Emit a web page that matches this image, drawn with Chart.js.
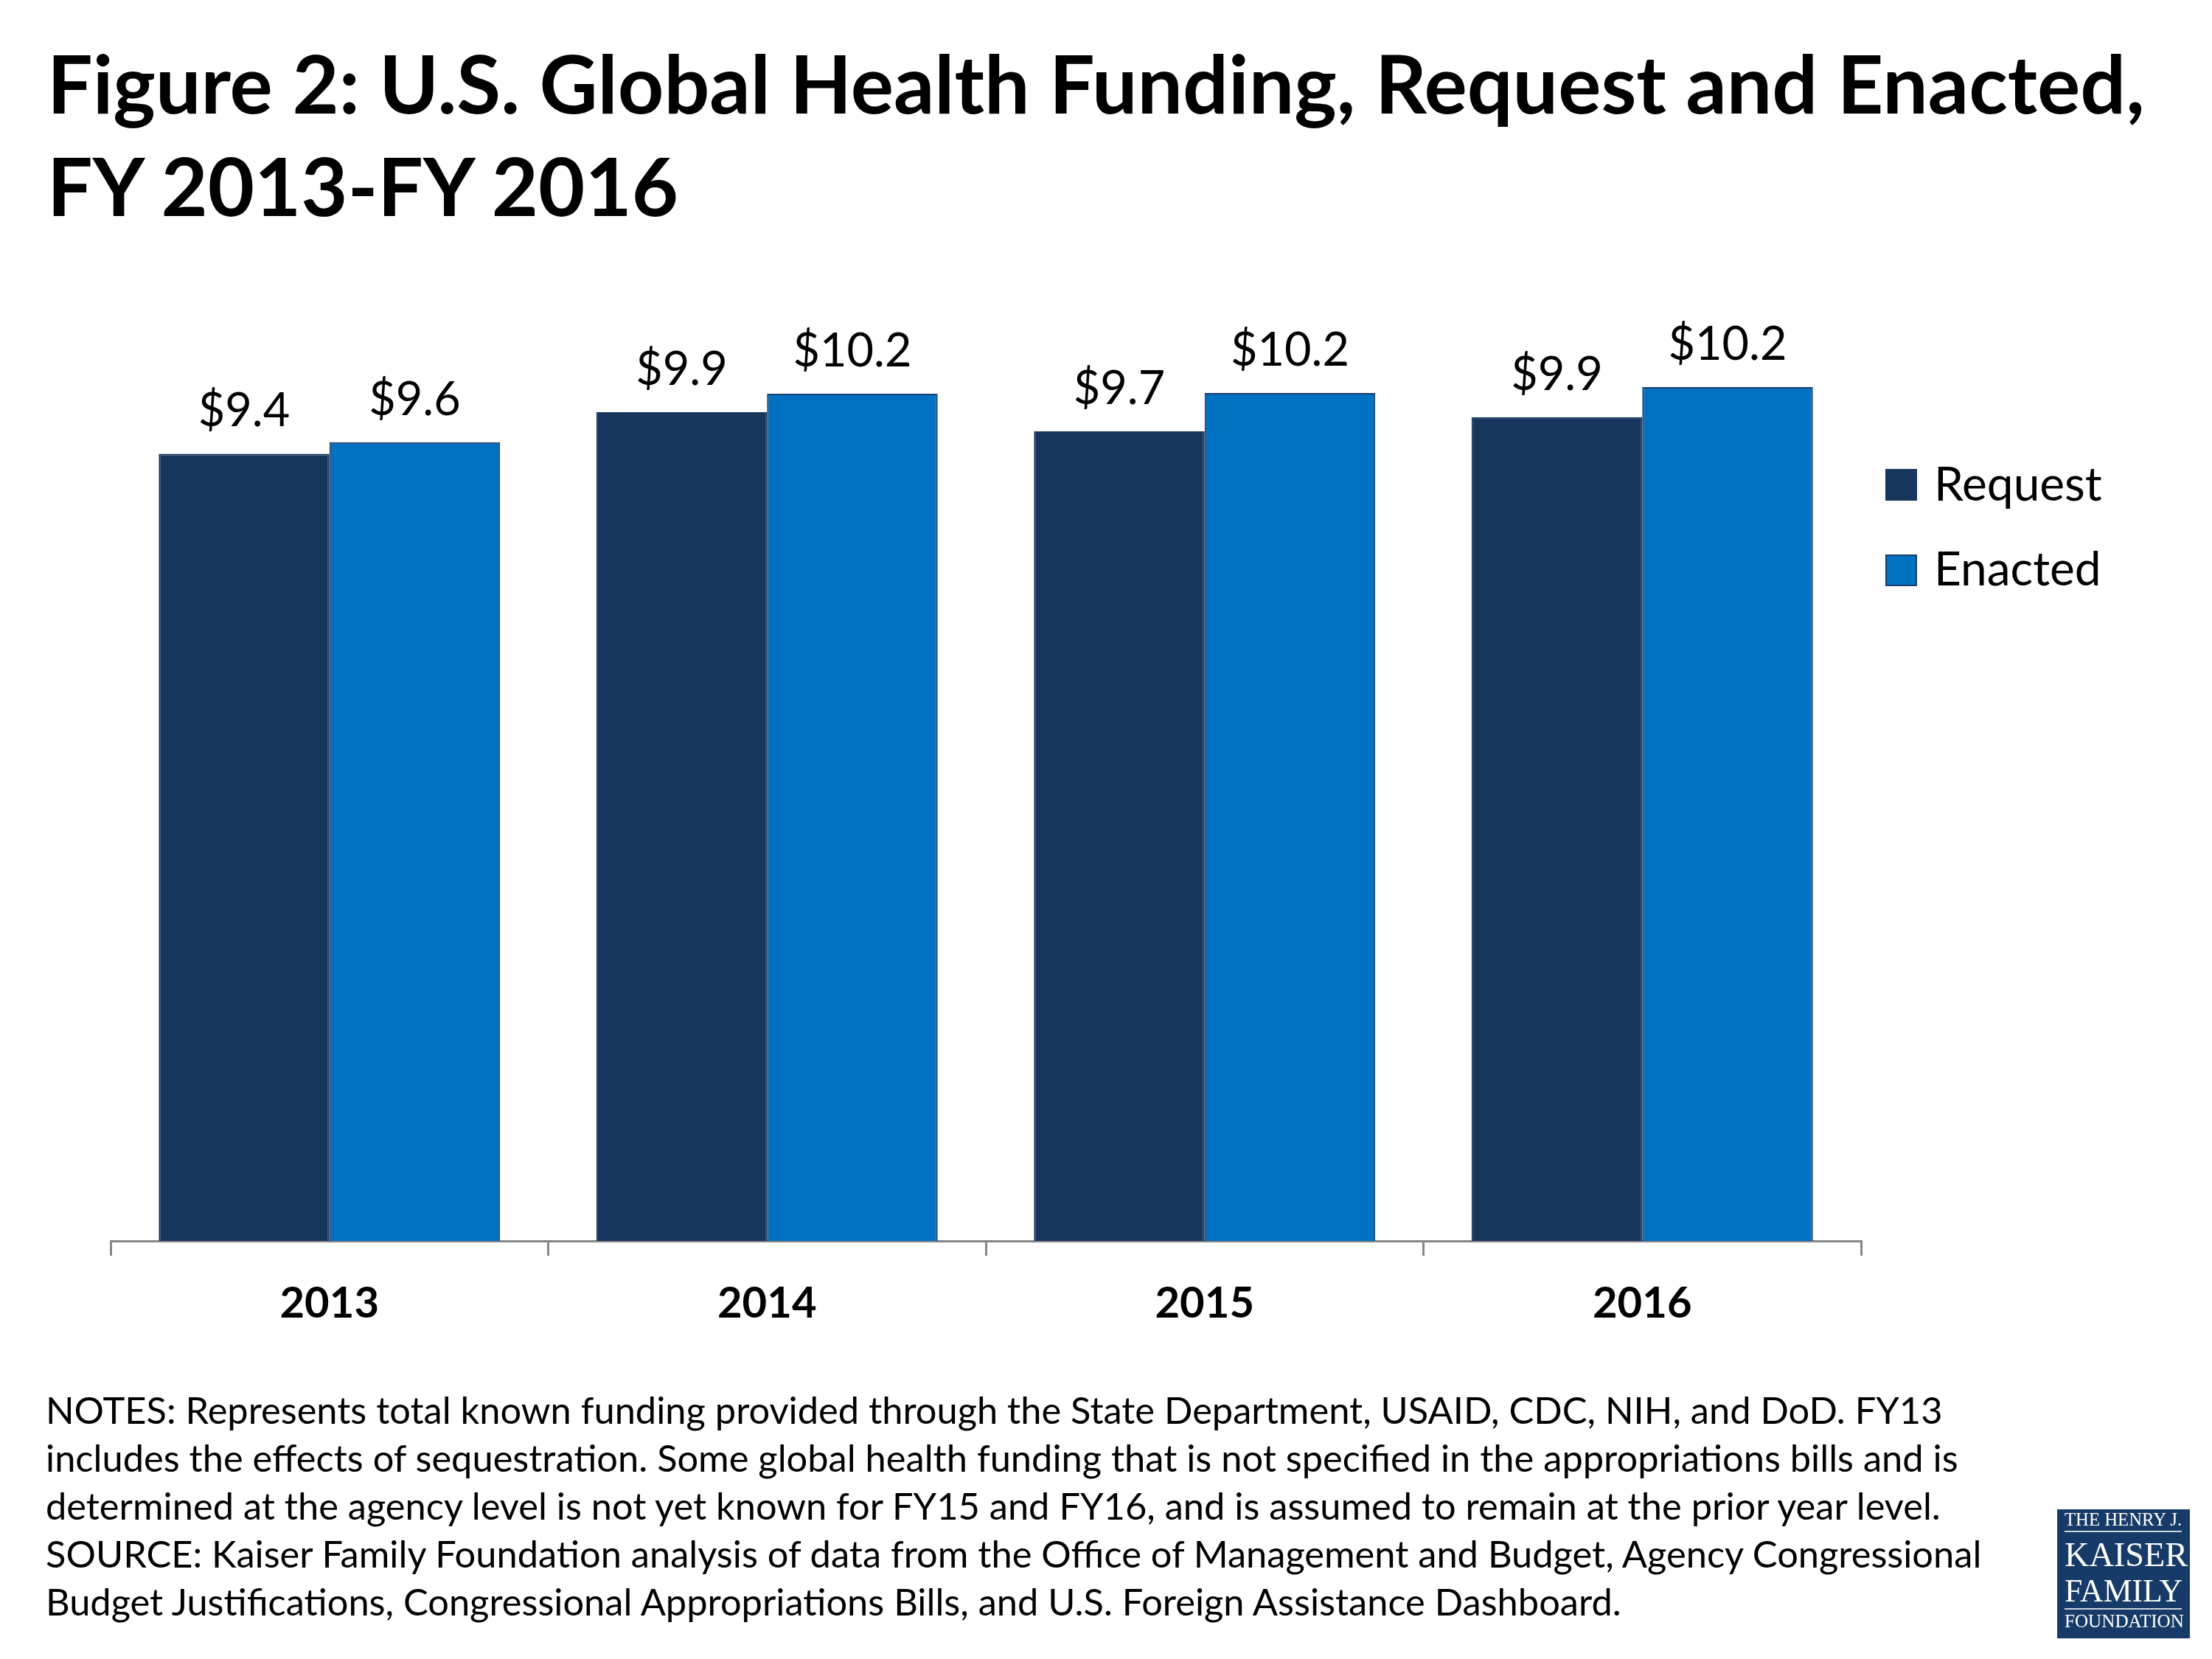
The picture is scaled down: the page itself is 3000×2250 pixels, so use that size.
<!DOCTYPE html>
<html>
<head>
<meta charset="utf-8">
<title>U.S. Global Health Funding, Request and Enacted</title>
<script src="https://cdn.jsdelivr.net/npm/chart.js@4.4.1/dist/chart.umd.min.js"></script>
<style>
  html, body { margin: 0; padding: 0; background: #fff; }
  #page { position: relative; width: 3000px; height: 2250px; overflow: hidden; font-family: Lato, "Open Sans", sans-serif; }
  #chart { position: absolute; left: 0; top: 0; }
  .line { position: absolute; white-space: nowrap; color: #000; line-height: 1.2; }
  .logo { position: absolute; left: 2790px; top: 2047px; width: 180px; height: 175px; background: #173b68; }
  .logo-t { color: #fff; font-family: "Liberation Serif", "DejaVu Serif", serif; }
  .logo-rule { position: absolute; left: 2800px; width: 159px; height: 2px; background: #c9d2de; }
</style>
</head>
<body>
<div id="page">
  <canvas id="chart" width="3000" height="2250"></canvas>
  <div class="logo"></div>
</div>
<script>
// chart data
var years = ['2013', '2014', '2015', '2016'];
var requestVals = [9.44, 9.94, 9.71, 9.88];
var enactedVals = [9.58, 10.16, 10.17, 10.24];

var titleLines = [
  'Figure 2: U.S. Global Health Funding, Request and Enacted,',
  'FY 2013-FY 2016'
];
var noteLines = [
  'NOTES: Represents total known funding provided through the State Department, USAID, CDC, NIH, and DoD. FY13',
  'includes the effects of sequestration. Some global health funding that is not specified in the appropriations bills and is',
  'determined at the agency level is not yet known for FY15 and FY16, and is assumed to remain at the prior year level.',
  'SOURCE: Kaiser Family Foundation analysis of data from the Office of Management and Budget, Agency Congressional',
  'Budget Justifications, Congressional Appropriations Bills, and U.S. Foreign Assistance Dashboard.'
];
var logoLines = ['THE HENRY J.', 'KAISER', 'FAMILY', 'FOUNDATION'];

var page = document.getElementById('page');
var measure = document.createElement('canvas').getContext('2d');

// font size that makes text come out at a given width
function fitSize(text, weight, family, width) {
  measure.font = weight + ' 100px ' + family;
  return 100 * width / measure.measureText(text).width;
}

// put one line of text so that its baseline sits at y
function addLine(cls, text, size, weight, x, baseline) {
  var d = document.createElement('div');
  d.className = cls;
  d.style.fontSize = size + 'px';
  d.style.fontWeight = weight;
  d.style.left = x + 'px';
  d.style.top = '0px';
  d.textContent = text;
  var m = document.createElement('span');
  m.style.cssText = 'display:inline-block;width:0;height:0;vertical-align:baseline';
  d.appendChild(m);
  page.appendChild(d);
  d.style.top = (baseline - m.offsetTop) + 'px';
}

var titleSize = fitSize(titleLines[0], 700, 'Lato', 2845);
addLine('line', titleLines[0], titleSize, 700, 64, 154);
addLine('line', titleLines[1], titleSize, 700, 64, 293);

var noteSize = fitSize(noteLines[1], 400, 'Lato', 2595);
noteLines.forEach(function (t, i) {
  addLine('line', t, noteSize, 400, 62, 1931 + i * 65);
});

// logo
var serif = '"Liberation Serif"';
var logoBase = [2069, 2124, 2172, 2207];
var logoW = [160, 167, 160, 162];
logoLines.forEach(function (t, i) {
  addLine('line logo-t', t, fitSize(t, 400, serif, logoW[i]), 400, 2800, logoBase[i]);
});
[2076, 2181].forEach(function (y) {
  var r = document.createElement('div');
  r.className = 'logo-rule';
  r.style.top = y + 'px';
  page.appendChild(r);
});

var valueLabels = {
  id: 'valueLabels',
  afterDatasetsDraw: function (chart) {
    var ctx = chart.ctx;
    ctx.save();
    ctx.font = '63px Lato';
    ctx.fillStyle = '#000';
    ctx.textAlign = 'center';
    ctx.textBaseline = 'alphabetic';
    chart.data.datasets.forEach(function (ds, i) {
      chart.getDatasetMeta(i).data.forEach(function (bar, j) {
        ctx.fillText('$' + ds.data[j].toFixed(1), bar.x, bar.y - 37);
      });
    });
    ctx.restore();
  }
};

var sideLegend = {
  id: 'sideLegend',
  afterDraw: function (chart) {
    var ctx = chart.ctx;
    ctx.save();
    ctx.font = '64px Lato';
    ctx.textAlign = 'left';
    ctx.textBaseline = 'alphabetic';
    chart.data.datasets.forEach(function (ds, i) {
      var top = 636 + i * 116;
      ctx.fillStyle = ds.backgroundColor;
      ctx.fillRect(2557, top, 43, 43);
      ctx.strokeStyle = ds.borderColor;
      ctx.lineWidth = 2;
      ctx.strokeRect(2558, top + 1, 41, 41);
      ctx.fillStyle = '#000';
      ctx.fillText(ds.label, 2623, 679 + i * 115);
    });
    ctx.restore();
  }
};

new Chart(document.getElementById('chart'), {
  type: 'bar',
  data: {
    labels: years,
    datasets: [
      { label: 'Request', data: requestVals, backgroundColor: '#17365d', borderColor: '#17365d', borderWidth: 2 },
      { label: 'Enacted', data: enactedVals, backgroundColor: '#0070c0', borderColor: '#1c3f6e', borderWidth: 2 }
    ]
  },
  options: {
    responsive: false,
    devicePixelRatio: 1,
    animation: false,
    layout: { padding: { left: 150, right: 476, top: 326, bottom: 0 } },
    datasets: { bar: { categoryPercentage: 0.78, barPercentage: 1 } },
    plugins: { legend: { display: false }, tooltip: { enabled: false } },
    scales: {
      y: { display: false, min: 0, max: 12 },
      x: {
        grid: { offset: true, drawOnChartArea: false, drawTicks: true, tickLength: 20, color: '#868686', lineWidth: 3 },
        border: { display: true, color: '#868686', width: 3 },
        ticks: { color: '#000', font: { family: 'Lato', size: 58, weight: 'bold' }, padding: 30 },
        afterFit: function (scale) { scale.height = 2250 - 1683; }
      }
    }
  },
  plugins: [valueLabels, sideLegend]
});
</script>
</body>
</html>
